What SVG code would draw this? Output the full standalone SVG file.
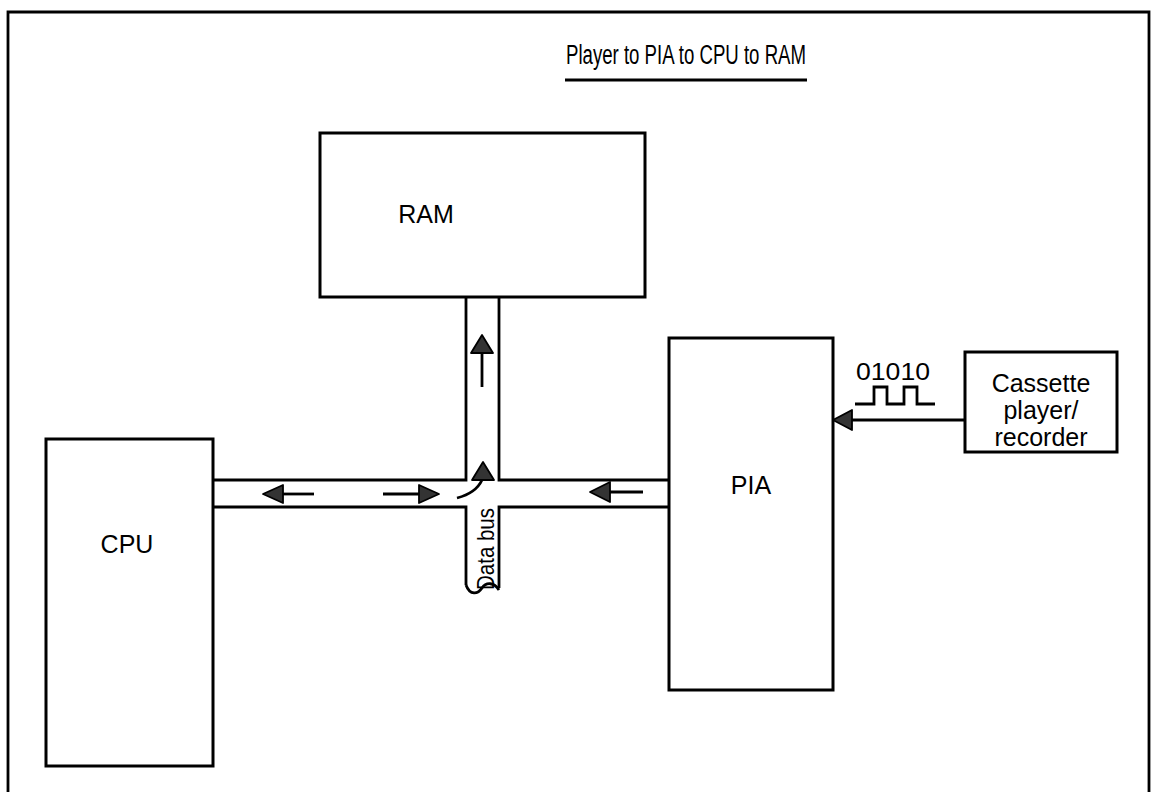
<svg xmlns="http://www.w3.org/2000/svg" width="1156" height="792" viewBox="0 0 1156 792">
<style>
.box{fill:#fff;stroke:#000;stroke-width:3}
.ln{fill:none;stroke:#000;stroke-width:2.8}
.sh{fill:none;stroke:#000;stroke-width:2.8}
.hd{fill:#333;stroke:#000;stroke-width:1.8;stroke-linejoin:round}
.t{font-family:"Liberation Sans",Arial,sans-serif;font-size:25px;fill:#000;text-anchor:middle}
</style>
<rect width="1156" height="792" fill="#fff"/>
<path class="ln" d="M8,792 V12 H1149 V792" stroke-width="3"/>
<g id="title">
<text class="t" x="686" y="64" style="font-size:27px" textLength="240" lengthAdjust="spacingAndGlyphs">Player to PIA to CPU to RAM</text>
<line x1="565" y1="80" x2="807" y2="80" stroke="#000" stroke-width="3"/>
</g>
<g id="bus">
<path class="ln" d="M213,480 H466 V297 M499,297 V480 H669"/>
<path class="ln" d="M213,507 H466 V585 M499,588 V507 H669"/>
<path class="ln" d="M466,585 C470,596 478,594 482,588 C486,582 494,582 499,590"/>
<text class="t" style="font-size:24px" textLength="82" lengthAdjust="spacingAndGlyphs" transform="translate(494,549) rotate(-90)">Data bus</text>
</g>
<g id="ram"><rect class="box" x="320" y="133" width="325" height="164"/><text class="t" x="426" y="223">RAM</text></g>
<g id="cpu"><rect class="box" x="46" y="439" width="167" height="327"/><text class="t" x="127" y="553">CPU</text></g>
<g id="pia"><rect class="box" x="669" y="338" width="164" height="352"/><text class="t" x="751" y="494">PIA</text></g>
<g id="cassette"><rect class="box" x="965" y="352" width="152" height="100"/>
<text class="t" x="1041" y="392">Cassette</text>
<text class="t" x="1041" y="419">player/</text>
<text class="t" x="1041" y="446">recorder</text></g>
<g id="signal">
<text class="t" x="893" y="380" style="font-size:24px" textLength="74" lengthAdjust="spacingAndGlyphs">01010</text>
<path class="ln" d="M855,404 H874 V387 H887 V404 H904 V387 H917 V404 H935" stroke-width="2.4"/>
</g>
<g id="connectors">
<line class="sh" x1="282" y1="494" x2="314" y2="494"/><path class="hd" d="M263,494 L283,485 L283,503 Z"/>
<line class="sh" x1="383" y1="494" x2="421" y2="494"/><path class="hd" d="M439,494 L419,485 L419,503 Z"/>
<path class="sh" d="M457,498 Q476,493 482,480"/><path class="hd" d="M483,462 L472,480 L494,480 Z"/>
<line class="sh" x1="609" y1="492" x2="643" y2="492"/><path class="hd" d="M590,492 L610,482 L610,502 Z"/>
<line class="sh" x1="482" y1="352" x2="482" y2="387"/><path class="hd" d="M482,335 L471,353 L493,353 Z"/>
<line class="sh" x1="851" y1="420" x2="965" y2="420" stroke-width="3"/><path class="hd" d="M833,420 L852,410 L852,430 Z"/>
</g>
</svg>
